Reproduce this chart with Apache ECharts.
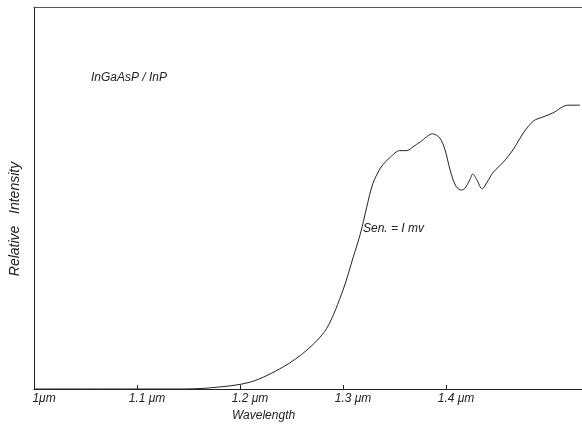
<!DOCTYPE html>
<html>
<head>
<meta charset="utf-8">
<script src="https://cdn.jsdelivr.net/npm/echarts@6/dist/echarts.min.js"></script>
<style>
  html, body {margin: 0; padding: 0; background: #fff;}
  #chart {width: 582px; height: 431px;}
</style>
</head>
<body>
<div id="chart"></div>
<script>
// wavelength (um) and relative intensity (0-100)
const wavelength = [1.0, 1.10, 1.139, 1.171, 1.21, 1.242, 1.265, 1.284, 1.30, 1.31, 1.317,
  1.323, 1.329, 1.337, 1.346, 1.355, 1.362, 1.368, 1.375, 1.387, 1.394, 1.399, 1.404, 1.409,
  1.414, 1.418, 1.423, 1.426, 1.43, 1.435, 1.44, 1.446, 1.455, 1.465, 1.475, 1.485, 1.494,
  1.504, 1.518, 1.53];
const intensity = [0, 0, 0, 0.3, 1.8, 5.8, 10.2, 15.8, 25.9, 34.6, 40.8,
  47.6, 53.8, 58.1, 60.7, 62.4, 62.4, 63.4, 64.7, 66.8, 65.7, 62.6, 57.3, 53.4,
  52.1, 52.4, 54.7, 56.3, 54.7, 52.4, 54.2, 56.8, 59.2, 62.6, 67.0, 70.2, 71.2,
  72.3, 74.3, 74.3];

const tickValues = [1.0, 1.1, 1.2, 1.3, 1.4];
const tickLabels = ["1μm", "1.1 μm", "1.2 μm", "1.3 μm", "1.4 μm"];

const FONT = "Liberation Sans";
const INK = "#222";

const chart = echarts.init(document.getElementById("chart"), null, {renderer: "canvas"});

const option = {
  animation: false,
  backgroundColor: "#fff",
  grid: {left: 34, right: 0, top: 7, bottom: 42},
  xAxis: [{
    type: "value",
    min: 1.0,
    max: 1.532,
    interval: 0.1,
    axisLine: {show: true, lineStyle: {color: INK, width: 1}},
    axisTick: {show: true, inside: true, length: 4, customValues: tickValues, lineStyle: {color: INK}},
    splitLine: {show: false},
    axisLabel: {
      customValues: tickValues,
      margin: 4,
      fontFamily: FONT,
      fontStyle: "italic",
      fontSize: 12,
      color: INK,
      align: "center",
      padding: [0, 0, 0, 20],
      formatter: (v) => {
        const i = tickValues.findIndex(t => Math.abs(t - v) < 1e-6);
        return i >= 0 ? tickLabels[i] : "";
      },
    },
  }, {
    type: "value",
    position: "top",
    min: 1.0,
    max: 1.532,
    axisLine: {show: true, lineStyle: {color: "#555", width: 1}},
    axisTick: {show: false},
    axisLabel: {show: false},
    splitLine: {show: false},
  }],
  yAxis: {
    type: "value",
    min: 0,
    max: 100,
    axisLine: {show: true, lineStyle: {color: INK, width: 1}},
    axisTick: {show: false},
    axisLabel: {show: false},
    splitLine: {show: false},
  },
  graphic: [
    {
      type: "text", left: 91, top: 72,
      style: {text: "InGaAsP / InP", font: "italic 12px " + FONT, fill: INK},
    },
    {
      type: "text", left: 363, top: 223,
      style: {text: "Sen. = I mv", font: "italic 12px " + FONT, fill: INK},
    },
    {
      type: "text", left: 232, top: 410,
      style: {text: "Wavelength", font: "italic 12px " + FONT, fill: INK},
    },
    {
      type: "text", x: 15, y: 219, rotation: Math.PI / 2,
      style: {text: "Relative   Intensity", font: "italic 14px " + FONT, fill: INK,
        align: "center", verticalAlign: "middle"},
    },
  ],
  series: [{
    type: "line",
    xAxisIndex: 0,
    data: wavelength.map((w, i) => [w, intensity[i]]),
    smooth: 0.3,
    showSymbol: false,
    lineStyle: {color: INK, width: 1},
  }],
};

chart.setOption(option);
</script>
</body>
</html>
